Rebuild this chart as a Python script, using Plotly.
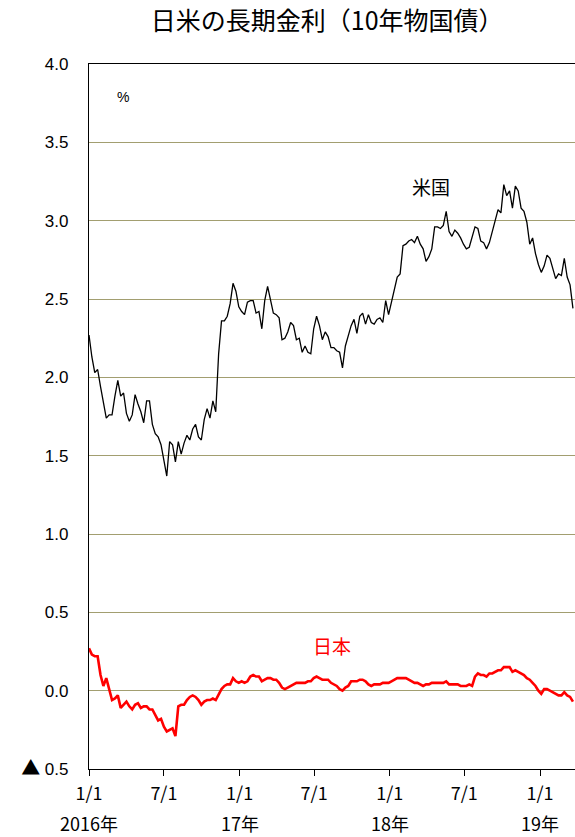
import pandas as pd
import plotly.graph_objects as go

# Weekly (Friday) 10-year government bond yields, %
week_start = "2016-01-01"

us_2016 = [2.27, 2.13, 2.03, 2.05, 1.94, 1.84, 1.74, 1.76, 1.76, 1.88, 1.98, 1.88, 1.90,
           1.77, 1.72, 1.76, 1.89, 1.83, 1.78, 1.71, 1.85, 1.85, 1.70, 1.64, 1.62, 1.57,
           1.46, 1.37, 1.59, 1.57, 1.46, 1.59, 1.51, 1.58, 1.63, 1.60, 1.67, 1.70, 1.62,
           1.60, 1.73, 1.80, 1.74, 1.85, 1.78, 2.15, 2.36, 2.36, 2.39, 2.47, 2.60, 2.55, 2.45]
us_2017 = [2.42, 2.40, 2.48, 2.49, 2.49, 2.41, 2.42, 2.31, 2.49, 2.58, 2.50, 2.41, 2.40,
           2.38, 2.24, 2.25, 2.29, 2.35, 2.33, 2.24, 2.25, 2.16, 2.20, 2.16, 2.15, 2.31,
           2.39, 2.33, 2.24, 2.29, 2.26, 2.19, 2.19, 2.17, 2.16, 2.06, 2.20, 2.26, 2.33,
           2.37, 2.28, 2.39, 2.41, 2.34, 2.40, 2.35, 2.34, 2.37, 2.38, 2.35, 2.49, 2.40]
us_2018 = [2.48, 2.55, 2.64, 2.66, 2.84, 2.85, 2.87, 2.88, 2.86, 2.90, 2.85, 2.82, 2.74,
           2.77, 2.82, 2.96, 2.96, 2.95, 2.97, 3.06, 2.93, 2.90, 2.94, 2.92, 2.89, 2.85,
           2.82, 2.83, 2.89, 2.96, 2.95, 2.87, 2.86, 2.82, 2.86, 2.94, 3.00, 3.07, 3.05,
           3.23, 3.16, 3.19, 3.08, 3.22, 3.19, 3.08, 3.06, 2.99, 2.85, 2.89, 2.79, 2.72]
us_2019 = [2.67, 2.71, 2.78, 2.76, 2.70, 2.63, 2.66, 2.65, 2.76, 2.64, 2.59, 2.44]

jp_2016 = [0.27, 0.23, 0.22, 0.22, 0.10, 0.03, 0.08, 0.00, -0.06, -0.05, -0.03, -0.11, -0.09,
           -0.07, -0.10, -0.12, -0.09, -0.08, -0.11, -0.10, -0.10, -0.12, -0.12, -0.16, -0.19,
           -0.18, -0.23, -0.26, -0.25, -0.24, -0.29, -0.10, -0.09, -0.09, -0.06, -0.04, -0.03,
           -0.04, -0.06, -0.09, -0.07, -0.06, -0.06, -0.05, -0.06, -0.02, 0.01, 0.03, 0.04,
           0.04, 0.08, 0.06, 0.05]
jp_2017 = [0.06, 0.05, 0.06, 0.09, 0.10, 0.09, 0.09, 0.06, 0.07, 0.08, 0.08, 0.07, 0.07,
           0.05, 0.02, 0.01, 0.02, 0.03, 0.04, 0.05, 0.05, 0.05, 0.05, 0.06, 0.06, 0.08,
           0.09, 0.08, 0.07, 0.07, 0.07, 0.05, 0.04, 0.03, 0.01, 0.00, 0.02, 0.03, 0.06,
           0.06, 0.06, 0.07, 0.07, 0.06, 0.04, 0.03, 0.04, 0.04, 0.04, 0.05, 0.05, 0.05]
jp_2018 = [0.06, 0.07, 0.08, 0.08, 0.08, 0.08, 0.07, 0.06, 0.05, 0.05, 0.04, 0.03, 0.04,
           0.04, 0.05, 0.05, 0.05, 0.05, 0.05, 0.06, 0.04, 0.04, 0.04, 0.04, 0.03, 0.03,
           0.03, 0.04, 0.03, 0.09, 0.11, 0.10, 0.10, 0.09, 0.11, 0.11, 0.12, 0.13, 0.13,
           0.15, 0.15, 0.15, 0.12, 0.13, 0.12, 0.11, 0.10, 0.08, 0.07, 0.05, 0.03, 0.00]
jp_2019 = [-0.02, 0.01, 0.01, 0.00, -0.01, -0.02, -0.03, -0.03, -0.01, -0.03, -0.04, -0.07]

us_yield = us_2016 + us_2017 + us_2018 + us_2019
jp_yield = jp_2016 + jp_2017 + jp_2018 + jp_2019
dates = pd.date_range(week_start, periods=len(us_yield), freq="7D")

x_tick_dates = ["2016-01-01", "2016-07-01", "2017-01-01", "2017-07-01",
                "2018-01-01", "2018-07-01", "2019-01-01"]
x_tick_text = ["1/1", "7/1", "1/1", "7/1", "1/1", "7/1", "1/1"]
year_dates = ["2016-01-01", "2017-01-01", "2018-01-01", "2019-01-01"]
year_text = ["2016年", "17年", "18年", "19年"]

JP_FONT = "Noto Sans CJK JP"
NUM_FONT = "Liberation Sans"

y_tick_vals = [-0.5, 0.0, 0.5, 1.0, 1.5, 2.0, 2.5, 3.0, 3.5, 4.0]
y_tick_text = [f"<span style='font-family:{JP_FONT};font-size:19px'>▲</span>\u00a00.5",
               "0.0", "0.5", "1.0", "1.5", "2.0", "2.5", "3.0", "3.5", "4.0"]

fig = go.Figure()
fig.add_trace(go.Scatter(x=dates, y=us_yield, mode="lines", name="米国",
                         line=dict(color="black", width=1.3)))
fig.add_trace(go.Scatter(x=dates, y=jp_yield, mode="lines", name="日本",
                         line=dict(color="#ff0000", width=2.6)))

fig.update_layout(
    width=575, height=837,
    margin=dict(l=89, r=0, t=64, b=68),
    paper_bgcolor="white", plot_bgcolor="white",
    showlegend=False,
    title=dict(text="日米の長期金利（10年物国債）", x=0.49, xref="paper", xanchor="center",
               y=0.975, yref="container", yanchor="middle",
               font=dict(family=JP_FONT, size=25, color="black")),
)

fig.update_xaxes(
    type="date", range=["2016-01-01", "2019-03-27"],
    tickmode="array", tickvals=x_tick_dates, ticktext=x_tick_text,
    ticks="outside", ticklen=6, tickcolor="black", tickwidth=1,
    showline=True, linecolor="black", linewidth=1.2, mirror=True,
    showgrid=False, zeroline=False,
    tickfont=dict(family=JP_FONT, size=18, color="black"),
    ticklabelstandoff=2,
)
fig.update_yaxes(
    range=[-0.5, 4.0], tickmode="array", tickvals=y_tick_vals, ticktext=y_tick_text,
    ticks="", showline=True, linecolor="black", linewidth=1.2,
    showgrid=True, gridcolor="#a29e70", gridwidth=1.2, zeroline=False,
    tickfont=dict(family=NUM_FONT, size=17, color="black"),
    ticklabelstandoff=16,
)

for d, t in zip(year_dates, year_text):
    fig.add_annotation(x=d, y=0, xref="x", yref="paper", text=t, showarrow=False,
                       yanchor="middle", yshift=-54,
                       font=dict(family=JP_FONT, size=18, color="black"))

fig.add_annotation(x=0.053, y=0.967, xref="paper", yref="paper", text="%",
                   showarrow=False, font=dict(family=NUM_FONT, size=14, color="black"))
fig.add_annotation(x="2018-04-11", y=3.22, text="米国", showarrow=False,
                   font=dict(family=JP_FONT, size=19, color="black"))
fig.add_annotation(x="2017-08-13", y=0.29, text="日本", showarrow=False,
                   font=dict(family=JP_FONT, size=19, color="#ff0000"))

fig.write_html("out.html")
